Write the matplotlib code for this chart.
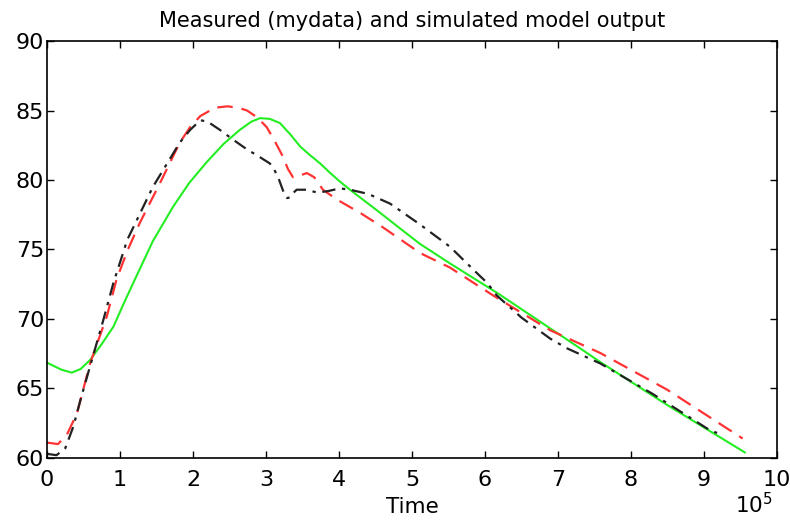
import matplotlib.pyplot as plt

plt.rcParams['font.family'] = ['DejaVu Sans']

# time in units of 1e5
t_green = [0.0, 0.1, 0.2, 0.34, 0.46, 0.59, 0.75, 0.91, 1.05, 1.2, 1.45, 1.73, 1.95,
           2.19, 2.42, 2.64, 2.8, 2.92, 3.05, 3.19, 3.33, 3.47, 3.6, 3.74, 3.88, 4.01,
           4.15, 4.5, 4.84, 5.11, 5.52, 6.16, 6.9, 7.3, 7.58, 8.5, 9.56]
y_green = [66.86, 66.6, 66.35, 66.14, 66.4, 67.05, 68.2, 69.45, 71.1, 72.8, 75.6, 78.1, 79.8,
           81.3, 82.6, 83.6, 84.2, 84.45, 84.4, 84.1, 83.3, 82.4, 81.8, 81.2, 80.5, 79.9,
           79.3, 77.9, 76.5, 75.4, 74.0, 71.9, 69.3, 67.9, 66.9, 63.8, 60.4]

t_red = [0.0, 0.04, 0.15, 0.27, 0.41, 0.59, 0.82, 0.95, 1.1, 1.27, 1.55, 1.82, 1.96, 2.1,
         2.3, 2.47, 2.62, 2.74, 2.88, 3.01, 3.12, 3.23, 3.3, 3.37, 3.45, 3.56, 3.66, 3.78,
         3.97, 4.3, 4.6, 5.11, 5.52, 6.11, 6.89, 7.58, 8.5, 9.53]
y_red = [61.1, 61.08, 61.0, 61.65, 63.2, 66.8, 70.2, 72.8, 74.9, 76.9, 79.8, 82.7, 83.8, 84.6,
         85.2, 85.3, 85.2, 85.0, 84.5, 83.8, 82.8, 81.7, 80.8, 80.2, 80.3, 80.5, 80.2, 79.3,
         78.6, 77.6, 76.6, 74.75, 73.7, 71.7, 69.2, 67.55, 64.9, 61.4]

t_black = [0.0, 0.13, 0.25, 0.36, 0.47, 0.59, 0.77, 0.91, 1.1, 1.45, 1.82, 1.96, 2.1, 2.2,
           2.37, 2.55, 2.74, 2.9, 3.05, 3.1, 3.18, 3.25, 3.29, 3.33, 3.38, 3.42, 3.55, 3.7,
           3.85, 4.01, 4.15, 4.4, 4.7, 5.11, 5.52, 5.89, 6.03, 6.16, 6.5, 6.89, 7.12, 7.58,
           8.3, 9.08, 9.18]
y_black = [60.3, 60.2, 60.7, 62.25, 64.4, 66.6, 69.9, 72.6, 75.7, 79.5, 82.7, 83.6, 84.3, 84.2,
           83.6, 82.9, 82.2, 81.7, 81.2, 80.9, 80.0, 79.0, 78.7, 78.75, 79.1, 79.3, 79.3, 79.1,
           79.2, 79.4, 79.3, 79.0, 78.3, 76.8, 75.2, 73.3, 72.6, 71.7, 70.1, 68.6, 67.9, 66.8,
           64.6, 62.0, 61.8]

fig = plt.figure(figsize=(7.9, 5.23), dpi=100)
ax = fig.add_axes([0.0595, 0.1243, 0.924, 0.7973])

ax.plot(t_green, y_green, color='#22ee22', lw=1.5)
ax.plot(t_red, y_red, color='#ff3333', lw=1.6, dashes=(7, 4))
ax.plot(t_black, y_black, color='#222222', lw=1.6, dashes=(6, 3, 1.5, 3))

ax.set_xlim(0, 10)
ax.set_ylim(60, 90)
ax.set_xticks(range(0, 11))
ax.set_yticks(range(60, 91, 5))
ax.tick_params(direction='in', top=True, right=True, labelsize=16, length=5, width=1)
ax.tick_params(axis='x', pad=9)
ax.tick_params(axis='y', pad=2)
for s in ax.spines.values():
    s.set_linewidth(1.2)

ax.set_title('Measured (mydata) and simulated model output', fontsize=15, pad=10)
ax.set_xlabel('Time', fontsize=15.5, labelpad=5)
fig.text(0.93, 0.012, '10$^5$', fontsize=15.5, ha='left', va='bottom')

fig.savefig('out.png', dpi=100)
